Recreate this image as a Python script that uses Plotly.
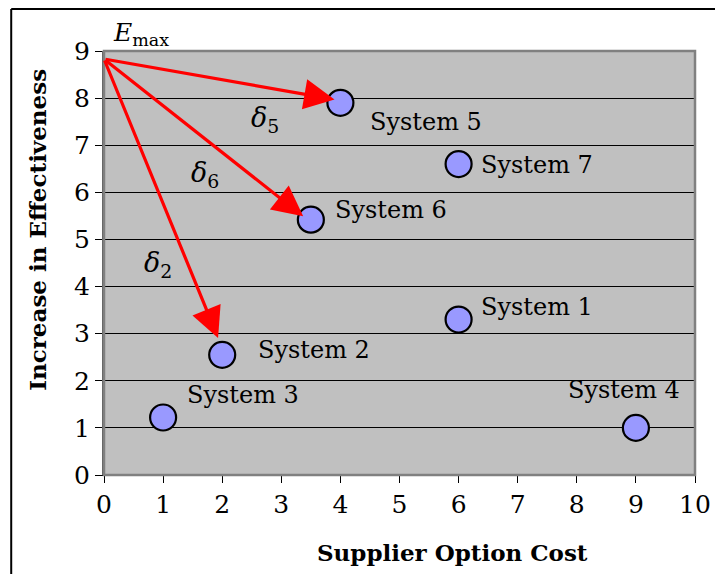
import plotly.graph_objects as go

# Data
systems = ["System 1", "System 2", "System 3", "System 4", "System 5", "System 6", "System 7"]
cost = [6, 2, 1, 9, 4, 3.5, 6]
effectiveness = [3.3, 2.55, 1.22, 1.0, 7.9, 5.42, 6.6]
emax_point = (0, 8.83)
arrow_targets = ["System 5", "System 6", "System 2"]
delta_labels = ["5", "6", "2"]
x_ticks = list(range(0, 11))
y_ticks = list(range(0, 10))
x_title = "Supplier Option Cost"
y_title = "Increase in Effectiveness"

# label positions (data offsets from each point)
label_dx = [1.33, 1.55, 1.35, -0.2, 1.45, 1.36, 1.33]
label_dy = [0.27, 0.1, 0.48, 0.8, -0.4, 0.21, -0.02]
delta_pos = [(2.72, 7.54), (1.71, 6.37), (0.91, 4.46)]
tip_shrink = {"System 5": (-0.1, 0.07), "System 6": (-0.13, 0.07), "System 2": (-0.07, 0.36)}

serif = "DejaVu Serif"

fig = go.Figure()
fig.add_trace(go.Scatter(
    x=cost, y=effectiveness, mode="markers",
    marker=dict(size=26, color="#9999FF", line=dict(color="black", width=2.2)),
    hoverinfo="skip", showlegend=False,
))

annotations = []
for s, x, y, dx, dy in zip(systems, cost, effectiveness, label_dx, label_dy):
    annotations.append(dict(x=x + dx, y=y + dy, text=s, showarrow=False,
                            font=dict(family=serif, size=24, color="black"),
                            xref="x", yref="y"))

for t, d, (px, py) in zip(arrow_targets, delta_labels, delta_pos):
    i = systems.index(t)
    sx, sy = tip_shrink[t]
    annotations.append(dict(
        x=cost[i] + sx, y=effectiveness[i] + sy, ax=emax_point[0], ay=emax_point[1],
        xref="x", yref="y", axref="x", ayref="y", text="", showarrow=True,
        arrowhead=2, arrowsize=1.9, arrowwidth=3.2, arrowcolor="#FF0000",
    ))
    annotations.append(dict(x=px, y=py, xref="x", yref="y", showarrow=False,
                            text="<i>δ</i><sub>" + d + "</sub>",
                            font=dict(family=serif, size=27, color="black")))

annotations.append(dict(x=0.012, y=0.998, xref="paper", yref="paper", showarrow=False,
                        xanchor="left", yanchor="bottom",
                        text="<i>E</i><sub>max</sub>",
                        font=dict(family=serif, size=25, color="black")))

annotations.append(dict(x=0.589, y=-0.182, xref="paper", yref="paper", showarrow=False,
                        xanchor="center", yanchor="middle",
                        text="<b>" + x_title + "</b>",
                        font=dict(family=serif, size=23, color="black")))
annotations.append(dict(x=-0.112, y=0.578, xref="paper", yref="paper", showarrow=False,
                        xanchor="center", yanchor="middle", textangle=-90,
                        text="<b>" + y_title + "</b>",
                        font=dict(family=serif, size=23, color="black")))

fig.update_layout(
    width=723, height=574,
    margin=dict(l=96, r=36, t=43, b=107, autoexpand=False),
    paper_bgcolor="white", plot_bgcolor="#C0C0C0",
    annotations=annotations,
    shapes=[
        dict(type="rect", xref="paper", yref="paper", x0=0, y0=0, x1=1, y1=1,
             line=dict(color="#808080", width=2.5), layer="above"),
        dict(type="line", xref="paper", yref="paper", x0=-0.157, x1=1.1, y0=1.099, y1=1.099,
             line=dict(color="black", width=2)),
        dict(type="line", xref="paper", yref="paper", x0=-0.157, x1=-0.157, y0=-0.3, y1=1.099,
             line=dict(color="black", width=2)),
    ],
    xaxis=dict(range=[0, 10], tickvals=x_ticks, showgrid=False, zeroline=False,
               automargin=False,
               showline=True, linecolor="black", linewidth=1,
               ticks="outside", ticklen=7, tickcolor="black",
               tickfont=dict(family=serif, size=25, color="black")),
    yaxis=dict(range=[0, 9], tickvals=y_ticks, showgrid=True, gridcolor="black", gridwidth=1,
               automargin=False,
               zeroline=False, showline=True, linecolor="#606060", linewidth=2,
               ticks="outside", ticklen=7, tickcolor="black",
               tickfont=dict(family=serif, size=25, color="black")),
)

fig.write_html("out.html")
